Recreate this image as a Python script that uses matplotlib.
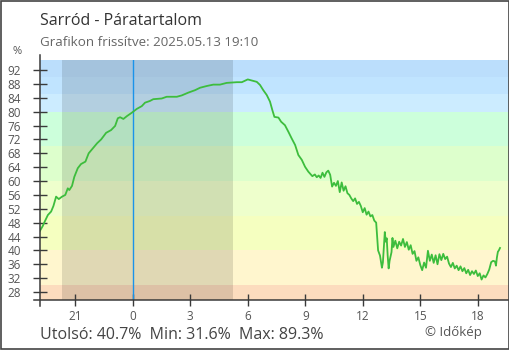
"""Sarród relative humidity chart (Időkép style) rebuilt with matplotlib."""

from __future__ import annotations

import matplotlib

matplotlib.use("Agg")
from matplotlib import pyplot as plt
from matplotlib.patches import Rectangle

# hours relative to midnight (negative = previous evening)
HOURS = [
    -4.87, -4.70, -4.62, -4.43, -4.26, -4.14, -4.00, -3.86, -3.69, -3.52,
    -3.39, -3.31, -3.17, -3.05, -2.87, -2.70, -2.47, -2.30, -2.09, -1.86,
    -1.65, -1.39, -1.13, -0.92, -0.78, -0.66, -0.49, -0.31, -0.05, 0.21,
    0.47, 0.64, 0.90, 1.07, 1.51, 1.77, 2.30, 2.56, 2.90, 3.25,
    3.51, 3.86, 4.20, 4.55, 4.90, 5.43, 5.69, 6.00, 6.21, 6.47,
    6.64, 6.81, 6.99, 7.16, 7.28, 7.39, 7.60, 7.74, 7.94, 8.12,
    8.29, 8.47, 8.64, 8.82, 8.99, 9.16, 9.37, 9.50, 9.60, 9.70,
    9.80, 9.90, 10.0, 10.1, 10.2, 10.3, 10.4, 10.5, 10.6, 10.7,
    10.8, 10.9, 11.0, 11.1, 11.2, 11.3, 11.4, 11.5, 11.6, 11.7,
    11.8, 11.9, 12.0, 12.1, 12.2, 12.3, 12.4, 12.5, 12.6, 12.7,
    12.75, 12.8, 12.9, 13.0, 13.05, 13.1, 13.15, 13.2, 13.25, 13.3,
    13.35, 13.4, 13.5, 13.55, 13.6, 13.7, 13.8, 13.9, 14.0, 14.1,
    14.2, 14.3, 14.4, 14.5, 14.6, 14.7, 14.8, 14.9, 15.0, 15.1,
    15.2, 15.3, 15.4, 15.5, 15.6, 15.7, 15.8, 15.9, 16.0, 16.1,
    16.2, 16.3, 16.4, 16.5, 16.6, 16.7, 16.8, 16.9, 17.0, 17.1,
    17.2, 17.3, 17.4, 17.5, 17.6, 17.7, 17.8, 17.9, 18.0, 18.1,
    18.2, 18.3, 18.4, 18.5, 18.6, 18.7, 18.8, 18.9, 18.95, 19.0,
    19.05, 19.1, 19.16,
]
HUMIDITY = [
    45.4, 47.0, 48.0, 50.2, 51.2, 52.8, 55.5, 54.8, 55.5, 56.0,
    57.9, 57.4, 58.6, 61.2, 63.7, 64.9, 65.6, 68.0, 69.4, 70.9,
    72.0, 73.9, 74.7, 75.9, 78.1, 78.4, 77.9, 78.7, 79.7, 80.8,
    81.6, 82.6, 83.1, 83.6, 83.8, 84.3, 84.3, 84.7, 85.5, 86.2,
    86.9, 87.4, 87.8, 87.8, 88.3, 88.5, 88.5, 89.3, 89.0, 88.6,
    87.7, 86.2, 84.8, 82.9, 80.5, 78.5, 78.3, 77.1, 76.1, 74.2,
    72.3, 70.4, 67.5, 66.1, 64.1, 62.7, 61.4, 61.9, 61.1, 61.6,
    60.9, 62.4, 61.2, 62.5, 63.0, 61.8, 58.4, 59.5, 58.6, 60.0,
    56.8, 59.6, 57.2, 58.5, 56.5, 56.0, 55.0, 54.2, 55.0, 53.4,
    54.0, 52.8, 51.0, 52.2, 50.3, 51.2, 49.8, 50.2, 48.6, 48.0,
    44.0, 40.0, 38.5, 35.0, 36.5, 41.0, 45.3, 42.5, 43.5, 38.5,
    34.8, 37.0, 39.5, 43.6, 41.0, 42.8, 40.6, 42.5, 41.4, 43.3,
    41.0, 42.4, 40.2, 41.5, 39.0, 39.8, 37.0, 38.0, 35.8, 34.3,
    36.5, 35.0, 39.9, 37.0, 38.8, 36.4, 38.6, 36.0, 38.9, 37.2,
    39.0, 37.5, 38.2, 36.2, 35.2, 36.4, 34.8, 35.6, 34.3, 35.4,
    34.0, 34.9, 33.4, 34.4, 32.9, 34.0, 33.2, 34.2, 32.6, 33.4,
    31.6, 32.8, 32.2, 33.2, 34.5, 36.6, 37.0, 36.8, 35.6, 38.0,
    39.6, 40.0, 40.7,
]

X_TICKS = [-3, 0, 3, 6, 9, 12, 15, 18]
X_TICK_LABELS = ["21", "0", "3", "6", "9", "12", "15", "18"]
Y_TICKS = list(range(28, 93, 4))

BAND_EDGES = [30, 40, 50, 60, 70, 80, 85, 90]
BAND_COLORS = [
    "#fcdcbe", "#fff6ce", "#f5ffc0", "#eeffcc", "#ddffcc",
    "#ccffdb", "#ccecff", "#c0e4ff", "#bbdefc",
]

NIGHT = (-3.69, 5.23)
X_RANGE = (-4.84, 19.63)
Y_RANGE = (25.7, 94.9)

TITLE = "Sarród - Páratartalom"
SUBTITLE = "Grafikon frissítve: 2025.05.13 19:10"
STATS = "Utolsó: 40.7%  Min: 31.6%  Max: 89.3%"
CREDIT = "© Időkép"

W, H = 510, 350


def px(x: float, y: float) -> tuple[float, float]:
    """Pixel position (from top-left) to figure fraction."""
    return x / W, 1 - y / H


def main() -> int:
    plt.rcParams["font.family"] = ["Open Sans", "DejaVu Sans"]

    fig = plt.figure(figsize=(W / 100, H / 100), dpi=100)
    left, top = px(40, 60)
    right, bottom = px(509, 300)
    ax = fig.add_axes([left, bottom, right - left, top - bottom])

    edges = [Y_RANGE[0]] + BAND_EDGES + [Y_RANGE[1]]
    for lo, hi, color in zip(edges[:-1], edges[1:], BAND_COLORS):
        ax.axhspan(lo, hi, color=color, lw=0, zorder=0)

    ax.axvspan(*NIGHT, color="black", alpha=0.12, lw=0, zorder=1)
    ax.axvline(0, color="#1a93ea", lw=1.0, zorder=2)
    ax.plot(HOURS, HUMIDITY, color="#3dbd3d", lw=1.3, zorder=3)

    ax.set_xlim(*X_RANGE)
    ax.set_ylim(*Y_RANGE)
    ax.set_xticks(X_TICKS, X_TICK_LABELS)
    ax.set_yticks(Y_TICKS)

    for side in ("top", "right", "left", "bottom"):
        ax.spines[side].set_visible(False)
    axis_kw = dict(color="#3a3a3a", lw=1.1, clip_on=False, transform=ax.transAxes, zorder=5)
    ax.plot([0, 0], [-0.025, 1.021], **axis_kw)
    ax.plot([-0.0128, 1], [0, 0], **axis_kw)

    ax.tick_params(axis="y", direction="inout", length=9.5, width=1.0, color="#3a3a3a",
                   labelsize=8.5, labelcolor="#555555", pad=9)
    ax.tick_params(axis="x", direction="inout", length=9, width=1.0, color="#3a3a3a",
                   labelsize=8.5, labelcolor="#555555", pad=3)

    fig.text(*px(40, 25), TITLE, fontsize=11.5, color="#333333", va="baseline")
    fig.text(*px(40, 46), SUBTITLE, fontsize=9.6, color="#666666", va="baseline")
    fig.text(*px(17, 54), "%", fontsize=8, color="#555555", va="baseline", ha="center")
    fig.text(*px(40, 339), STATS, fontsize=11.5, color="#444444", va="baseline")
    fig.text(*px(425, 336), CREDIT, fontsize=9.5, color="#555555", va="baseline")

    fig.patches.append(Rectangle((0.001, 0.0015), 0.998, 0.997, transform=fig.transFigure,
                                 fill=False, edgecolor="#444444", lw=1.2))

    fig.savefig("out.png", dpi=100)
    return 0


if __name__ == "__main__":
    raise SystemExit(main())
